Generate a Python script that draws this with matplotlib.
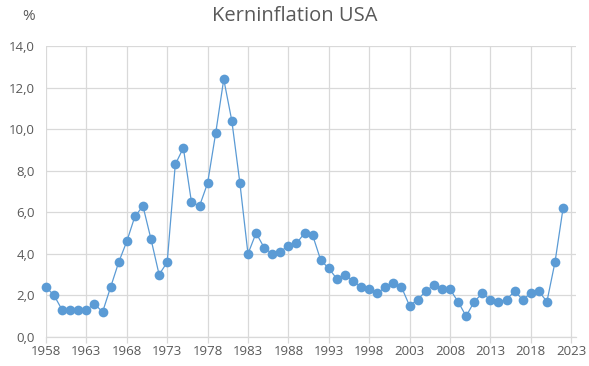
import matplotlib.pyplot as plt
from matplotlib.ticker import FuncFormatter

years = list(range(1958, 2023))
core_inflation = [
    2.4, 2.0, 1.3, 1.3, 1.3, 1.3, 1.6, 1.2, 2.4, 3.6,
    4.6, 5.8, 6.3, 4.7, 3.0, 3.6, 8.3, 9.1, 6.5, 6.3,
    7.4, 9.8, 12.4, 10.4, 7.4, 4.0, 5.0, 4.3, 4.0, 4.1,
    4.4, 4.5, 5.0, 4.9, 3.7, 3.3, 2.8, 3.0, 2.7, 2.4,
    2.3, 2.1, 2.4, 2.6, 2.4, 1.5, 1.8, 2.2, 2.5, 2.3,
    2.3, 1.7, 1.0, 1.7, 2.1, 1.8, 1.7, 1.8, 2.2, 1.8,
    2.1, 2.2, 1.7, 3.6, 6.2,
]
x_ticks = list(range(1958, 2024, 5))
y_ticks = [0, 2, 4, 6, 8, 10, 12, 14]

plt.rcParams["font.family"] = ["Open Sans", "DejaVu Sans"]
text_grey = "#595959"
grid_grey = "#d9d9d9"

fig = plt.figure(figsize=(5.89, 3.66), dpi=100)
ax = fig.add_axes([46 / 589, 1 - 337 / 366, (576 - 46) / 589, (337 - 46) / 366])

ax.plot(years, core_inflation, color="#5b9bd5", linewidth=0.9,
        marker="o", markersize=7, markeredgewidth=0, zorder=3, clip_on=False)

ax.set_xlim(1958, 2023 + 0.6)
ax.set_ylim(0, 14)
ax.set_xticks(x_ticks)
ax.set_yticks(y_ticks)
ax.yaxis.set_major_formatter(FuncFormatter(lambda v, p: f"{v:.1f}".replace(".", ",")))

ax.grid(True, color=grid_grey, linewidth=0.9)
ax.set_axisbelow(True)
for side in ["top", "right", "left"]:
    ax.spines[side].set_visible(False)
ax.spines["bottom"].set_color(grid_grey)
ax.spines["bottom"].set_linewidth(0.9)

ax.tick_params(axis="x", colors=grid_grey, length=4, width=0.9, labelcolor=text_grey,
               labelsize=9.5, pad=2)
ax.tick_params(axis="y", length=0, labelcolor=text_grey, labelsize=9.5, pad=8)

fig.text(0.5, 1 - 16 / 366, "Kerninflation USA", ha="center", va="center",
         fontsize=14.5, color=text_grey)
fig.text(22 / 589, 1 - 17 / 366, "%", ha="left", va="center",
         fontsize=11, color=text_grey)

fig.savefig("out.png", dpi=100)
